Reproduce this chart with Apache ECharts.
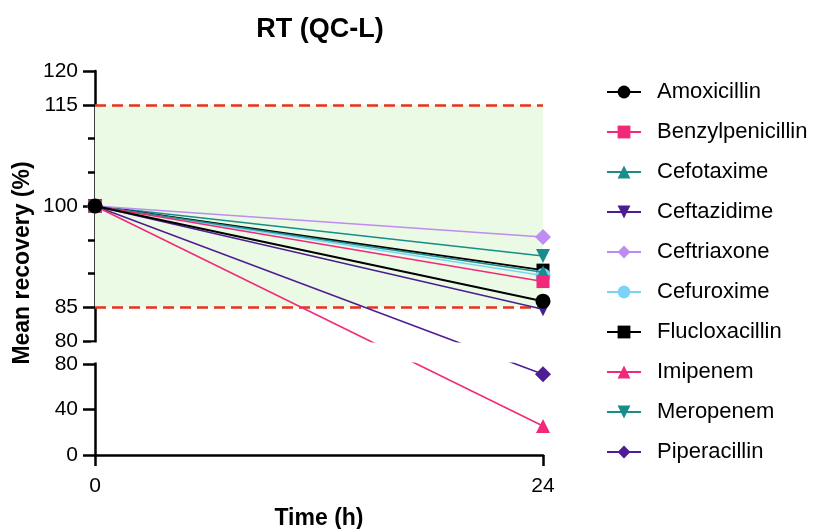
<!DOCTYPE html>
<html>
<head>
<meta charset="utf-8">
<title>RT (QC-L)</title>
<script src="https://cdn.jsdelivr.net/npm/echarts@6/dist/echarts.min.js"></script>
<style>
  html, body { margin: 0; padding: 0; background: #fff; }
  #main { width: 817px; height: 529px; }
</style>
</head>
<body>
<div id="main"></div>
<script>
// sampling times (h)
var times = [0, 24];

var drugs = ['Amoxicillin', 'Benzylpenicillin', 'Cefotaxime', 'Ceftazidime', 'Ceftriaxone',
  'Cefuroxime', 'Flucloxacillin', 'Imipenem', 'Meropenem', 'Piperacillin'];

// mean recovery (%) at 0 h and 24 h
var amoxicillin      = [100, 85.9];
var benzylpenicillin = [100, 88.8];
var cefotaxime       = [100, 90.2];
var ceftazidime      = [100, 84.7];
var ceftriaxone      = [100, 95.4];
var cefuroxime       = [100, 89.7];
var flucloxacillin   = [100, 90.5];
var imipenem         = [100, 25.5];
var meropenem        = [100, 92.6];
var piperacillin     = [100, 71];

var recovery = [amoxicillin, benzylpenicillin, cefotaxime, ceftazidime, ceftriaxone,
  cefuroxime, flucloxacillin, imipenem, meropenem, piperacillin];

var colors = ['#000000', '#F2297A', '#1A8C8A', '#4A1E8F', '#BE8CF2',
  '#7DD3F5', '#000000', '#F2297A', '#178C8A', '#4E1C94'];
var symbols = ['circle', 'rect', 'triangle', 'triangle', 'diamond',
  'circle', 'rect', 'triangle', 'triangle', 'diamond'];
var rotations = [0, 0, 0, 180, 0, 0, 0, 0, 180, 0];
var sizes = [15, 13, 14, 14, 16, 15, 13, 14, 14, 16];

// axis ticks
var upperLabels = [80, 85, 100, 115, 120];
var upperMinor = [90, 95, 105, 110];
var lowerLabels = [0, 40, 80];
var acceptLow = 85, acceptHigh = 115;

// layout of the broken y axis (pixels)
var gridTop = 71, gridBottom = 74, gridLeft = 95, gridRight = 274;
var upperPx = 270, gapPx = 23, lowerPx = 91;
var unit = upperPx / 40;                 // px per % in the upper part
var breakLow = 80 - gapPx / unit;        // axis value where the lower part's 80 sits
var lowerSpan = lowerPx / unit;
var axisMin = breakLow - lowerSpan;

// value in the lower part (0-80) -> position on the axis
function lowerToAxis(v) {
  return breakLow - (80 - v) / 80 * lowerSpan;
}
function toAxis(v) {
  return v >= 80 ? v : lowerToAxis(v);
}
function fromAxis(a) {
  return a >= 80 - 1e-6 ? a : 80 - (breakLow - a) * 80 / lowerSpan;
}

var font = 'Liberation Sans, Arial, sans-serif';
var labelValues = upperLabels.concat(lowerLabels.map(lowerToAxis));

var chart = echarts.init(document.getElementById('main'));

var series = drugs.map(function (name, i) {
  return {
    name: name,
    type: 'line',
    data: times.map(function (t, j) { return [t, toAxis(recovery[i][j])]; }),
    symbol: symbols[i],
    symbolRotate: rotations[i],
    symbolSize: sizes[i],
    itemStyle: { color: colors[i] },
    lineStyle: { color: colors[i], width: colors[i] === '#000000' ? 2 : 1.5 },
    z: 30 - i,
    emphasis: { disabled: true }
  };
});

// acceptance band 85-115 %
series.push({
  name: 'band',
  type: 'line',
  data: [],
  z: 1,
  markArea: {
    silent: true,
    itemStyle: { color: '#EBFAE5' },
    data: [[{ yAxis: acceptLow }, { yAxis: acceptHigh }]]
  },
  markLine: {
    silent: true,
    symbol: ['none', 'none'],
    label: { show: false },
    lineStyle: { color: '#E8321E', width: 2.5, type: [11, 6] },
    data: [{ yAxis: acceptLow }, { yAxis: acceptHigh }]
  }
});

chart.setOption({
  animation: false,
  textStyle: { fontFamily: font },
  title: {
    text: 'RT (QC-L)',
    left: 315,
    top: 11,
    textAlign: 'center',
    textStyle: { fontFamily: font, fontSize: 27, fontWeight: 'bold', color: '#000' }
  },
  legend: {
    data: drugs,
    orient: 'vertical',
    left: 601,
    top: 76,
    itemWidth: 34,
    itemHeight: 16,
    itemGap: 18,
    textStyle: { fontFamily: font, fontSize: 22, color: '#000', padding: [0, 0, 0, 11] }
  },
  grid: {
    left: gridLeft, right: gridRight, top: gridTop, bottom: gridBottom,
    outerBoundsMode: 'none'
  },
  xAxis: {
    type: 'value',
    min: 0,
    max: 24,
    interval: 24,
    name: 'Time (h)',
    nameLocation: 'middle',
    nameGap: 52,
    nameMoveOverlap: false,
    nameTextStyle: { fontFamily: font, fontSize: 23, fontWeight: 'bold', color: '#000' },
    axisLine: { lineStyle: { color: '#000', width: 2.5 } },
    axisTick: { length: 11, lineStyle: { color: '#000', width: 2.5 } },
    axisLabel: { fontSize: 21, color: '#000', margin: 21 },
    splitLine: { show: false }
  },
  yAxis: [{
    type: 'value',
    min: axisMin,
    max: 120,
    name: 'Mean recovery (%)',
    nameLocation: 'middle',
    nameGap: 61,
    nameMoveOverlap: false,
    nameTextStyle: { fontFamily: font, fontSize: 23, fontWeight: 'bold', color: '#000' },
    axisLine: { lineStyle: { color: '#000', width: 2.5 } },
    axisTick: {
      length: 12,
      lineStyle: { color: '#000', width: 2.5 },
      customValues: labelValues
    },
    axisLabel: {
      fontSize: 21,
      color: '#000',
      margin: 17,
      customValues: labelValues,
      formatter: function (v) { return String(Math.round(fromAxis(v))); }
    },
    splitLine: { show: false }
  }, {
    type: 'value',
    min: axisMin,
    max: 120,
    position: 'left',
    axisLine: { show: false },
    axisLabel: { show: false },
    axisTick: {
      length: 7,
      lineStyle: { color: '#000', width: 2.5 },
      customValues: upperMinor
    },
    splitLine: { show: false }
  }],
  series: series
});

// hide the break between the two parts of the y axis
var y80 = chart.convertToPixel({ yAxisIndex: 0 }, 80);
var yLow = chart.convertToPixel({ yAxisIndex: 0 }, breakLow);
chart.setOption({
  graphic: [{
    type: 'rect',
    z: 100,
    silent: true,
    shape: { x: gridLeft - 4, y: y80 + 1.6, width: 817 - gridRight - gridLeft + 12, height: yLow - y80 - 3.2 },
    style: { fill: '#fff' }
  }]
});
</script>
</body>
</html>
